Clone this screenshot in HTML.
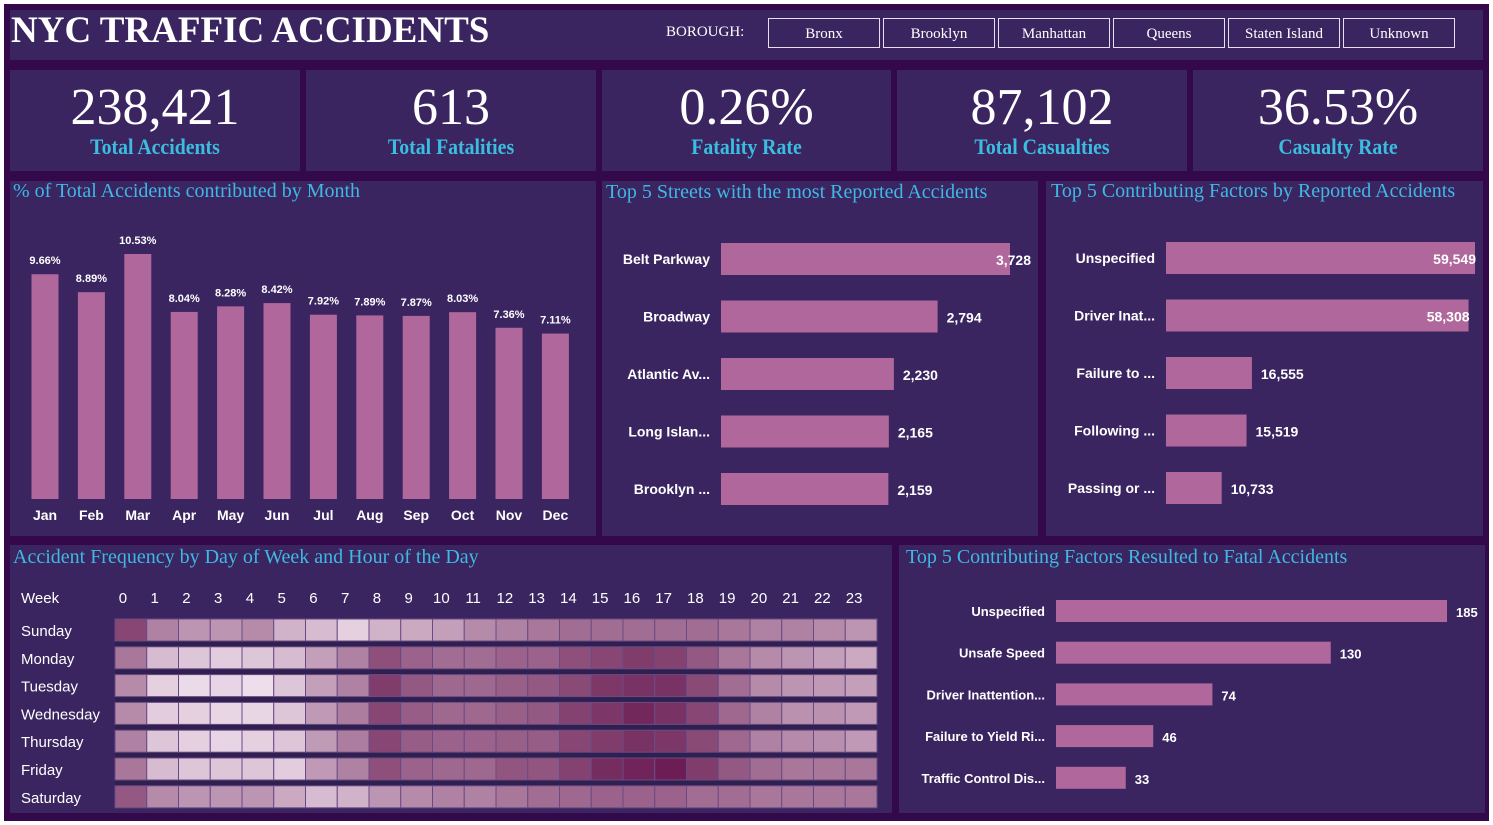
<!DOCTYPE html>
<html><head><meta charset="utf-8">
<style>
body{margin:0;width:1493px;height:825px;background:#fff;overflow:hidden;font-family:"Liberation Sans",sans-serif}
#dash{position:absolute;left:4px;top:4px;width:1485px;height:817px;background:#34094c}
.p{position:absolute;background:#3a2560}
.t{position:absolute;font-family:"Liberation Serif",serif;color:#3fb8e4;font-size:20px;white-space:nowrap}
.kv{position:absolute;left:0;right:0;top:8px;text-align:center;color:#fff;font-family:"Liberation Serif",serif;font-size:52px}
.kl{position:absolute;left:0;right:0;top:64px;text-align:center;color:#3bbde0;font-family:"Liberation Serif",serif;font-weight:bold;font-size:22px;transform:scaleX(0.9)}
.btn{position:absolute;top:18px;height:28px;width:110px;border:1px solid #e8e0f0;color:#fff;font-family:"Liberation Serif",serif;font-size:15px;text-align:center;line-height:31px}
svg{position:absolute;left:0;top:0}
svg text{font-family:"Liberation Sans",sans-serif;fill:#fff;font-weight:bold}
svg text.n{font-weight:normal}
</style></head><body>
<div id="dash"></div>
<div class="p" style="left:10px;top:10px;width:1473px;height:50px">
 <div style="position:absolute;left:1px;top:-1px;font-family:'Liberation Serif',serif;font-weight:bold;font-size:37px;color:#fff;line-height:44px">NYC TRAFFIC ACCIDENTS</div>
 <div style="position:absolute;left:656px;top:14px;font-family:'Liberation Serif',serif;font-size:15px;color:#fff">BOROUGH:</div>
</div>
<div class="btn" style="left:768px">Bronx</div>
<div class="btn" style="left:883px">Brooklyn</div>
<div class="btn" style="left:998px">Manhattan</div>
<div class="btn" style="left:1113px">Queens</div>
<div class="btn" style="left:1228px">Staten Island</div>
<div class="btn" style="left:1343px">Unknown</div>

<div class="p" style="left:10px;top:70px;width:290px;height:101px"><div class="kv">238,421</div><div class="kl">Total Accidents</div></div>
<div class="p" style="left:306px;top:70px;width:290px;height:101px"><div class="kv">613</div><div class="kl">Total Fatalities</div></div>
<div class="p" style="left:602px;top:70px;width:289px;height:101px"><div class="kv">0.26%</div><div class="kl">Fatality Rate</div></div>
<div class="p" style="left:897px;top:70px;width:290px;height:101px"><div class="kv">87,102</div><div class="kl">Total Casualties</div></div>
<div class="p" style="left:1193px;top:70px;width:290px;height:101px"><div class="kv">36.53%</div><div class="kl">Casualty Rate</div></div>

<div class="p" style="left:10px;top:181px;width:586px;height:355px"></div>
<div class="p" style="left:602px;top:181px;width:436px;height:355px"></div>
<div class="p" style="left:1046px;top:181px;width:437px;height:355px"></div>
<div class="p" style="left:10px;top:545px;width:882px;height:268px"></div>
<div class="p" style="left:899px;top:545px;width:586px;height:268px"></div>

<div class="t" style="left:13px;top:180px">% of Total Accidents contributed by Month</div>
<div class="t" style="left:606px;top:181px">Top 5 Streets with the most Reported Accidents</div>
<div class="t" style="left:1051px;top:180px">Top 5 Contributing Factors by Reported Accidents</div>
<div class="t" style="left:13px;top:546px">Accident Frequency by Day of Week and Hour of the Day</div>
<div class="t" style="left:906px;top:546px">Top 5 Contributing Factors Resulted to Fatal Accidents</div>

<svg id="chart" width="1493" height="825"></svg>
<script>
const months=["Jan","Feb","Mar","Apr","May","Jun","Jul","Aug","Sep","Oct","Nov","Dec"];
const monthPct=[9.66,8.89,10.53,8.04,8.28,8.42,7.92,7.89,7.87,8.03,7.36,7.11];
const streets=["Belt Parkway","Broadway","Atlantic Av...","Long Islan...","Brooklyn ..."];
const streetVals=[3728,2794,2230,2165,2159];
const factors=["Unspecified","Driver Inat...","Failure to ...","Following ...","Passing or ..."];
const factorVals=[59549,58308,16555,15519,10733];
const fatalFactors=["Unspecified","Unsafe Speed","Driver Inattention...","Failure to Yield Ri...","Traffic Control Dis..."];
const fatalVals=[185,130,74,46,33];
const days=["Sunday","Monday","Tuesday","Wednesday","Thursday","Friday","Saturday"];
const hours=[0,1,2,3,4,5,6,7,8,9,10,11,12,13,14,15,16,17,18,19,20,21,22,23];
const heat=[
[.8,.5,.4,.4,.45,.25,.2,.1,.25,.3,.35,.45,.5,.55,.6,.6,.6,.6,.6,.55,.5,.5,.45,.4],
[.55,.2,.15,.12,.15,.2,.35,.5,.75,.65,.6,.6,.65,.65,.75,.8,.85,.82,.7,.55,.45,.4,.35,.3],
[.45,.1,.05,.08,.03,.15,.35,.5,.85,.7,.62,.62,.67,.7,.78,.87,.9,.9,.78,.6,.45,.4,.38,.35],
[.45,.12,.1,.07,.07,.15,.38,.52,.8,.68,.62,.62,.67,.7,.82,.88,.95,.9,.8,.62,.5,.42,.42,.38],
[.5,.15,.1,.08,.1,.15,.37,.52,.8,.68,.65,.65,.67,.68,.8,.85,.9,.88,.78,.62,.5,.45,.43,.38],
[.55,.2,.15,.15,.15,.12,.38,.5,.75,.65,.62,.62,.72,.72,.82,.93,.97,1,.85,.7,.6,.55,.55,.55],
[.7,.45,.4,.4,.4,.3,.2,.25,.4,.45,.5,.5,.55,.6,.62,.65,.65,.65,.6,.6,.55,.55,.55,.55]];

const svg=document.getElementById('chart');
const NS='http://www.w3.org/2000/svg';
function mk(tag,attrs,txt){const e=document.createElementNS(NS,tag);for(const k in attrs)e.setAttribute(k,attrs[k]);if(txt!==undefined)e.textContent=txt;svg.appendChild(e);return e;}
const BAR='#b0689c';

const mBase=499,mScale=245/10.53;
const mx=i=>45+i*46.4;
const my=v=>mBase-v*mScale;
monthPct.forEach((v,i)=>{
 const r=mk('rect',{x:mx(i)-13.5,y:my(v),width:27,height:mBase-my(v),fill:BAR});
 
 
 const l=mk('text',{x:mx(i),y:my(v)-10,'text-anchor':'middle','font-size':11},v.toFixed(2)+'%');
 
 
 const m=mk('text',{x:mx(i),y:520,'text-anchor':'middle','font-size':14},months[i]);
 
 
});

function hbars(names,vals,x0,maxW,yc,pitch,h,labelX,fs,prefix,insideTop){
 const mx=Math.max(...vals);
 const sx=v=>v/mx*maxW;
 vals.forEach((v,i)=>{
  const y=yc+i*pitch;
  const r=mk('rect',{x:x0,y:y-h/2,width:sx(v),height:h,fill:BAR});
  
  
  const n=mk('text',{x:labelX,y:y+5,'text-anchor':'end','font-size':fs},names[i]);
  
  
  const inside=insideTop&&v/mx>0.9;
  const t=mk('text',{x:inside?x0+sx(v)+insideTop:x0+sx(v)+9,y:y+6,'text-anchor':inside?'end':'start','font-size':fs},v.toLocaleString('en-US'));
  
  
 });
}
hbars(streets,streetVals,721,289,259,57.5,32,710,14,'street',21);
hbars(factors,factorVals,1166,309,258,57.5,32,1155,14,'factor',1);
hbars(fatalFactors,fatalVals,1056,391,611,41.7,22,1045,13,'fatal',0);

const hx0=115,cw=762/24,hy0=630,rp=27.8;
function col(t){const a=[242,228,240],b=[108,30,84];return 'rgb('+a.map((c,k)=>Math.round(c+(b[k]-c)*t)).join(',')+')';}
const wk=mk('text',{x:21,y:603,'font-size':15,'class':'n'},'Week');


hours.forEach((h,j)=>{
 const t=mk('text',{x:hx0+cw*j+cw/2-7+(j<10?-1:0),y:603,'text-anchor':'middle','font-size':15,'class':'n'},String(h));
 
 
});
days.forEach((d,i)=>{
 const y=hy0+i*rp;
 const t=mk('text',{x:21,y:y+6,'font-size':15,'class':'n'},d);
 
 
 if(i<6){const g=mk('rect',{x:hx0,y:y+11,width:762,height:6,fill:'#2f2050'});
  
  }
 heat[i].forEach((v,j)=>{
  const c=mk('rect',{x:hx0+j*cw,y:y-11,width:cw,height:22,fill:col(v),stroke:'#6a4a86','stroke-width':1});
  
  
 });
});
</script>
</body></html>
